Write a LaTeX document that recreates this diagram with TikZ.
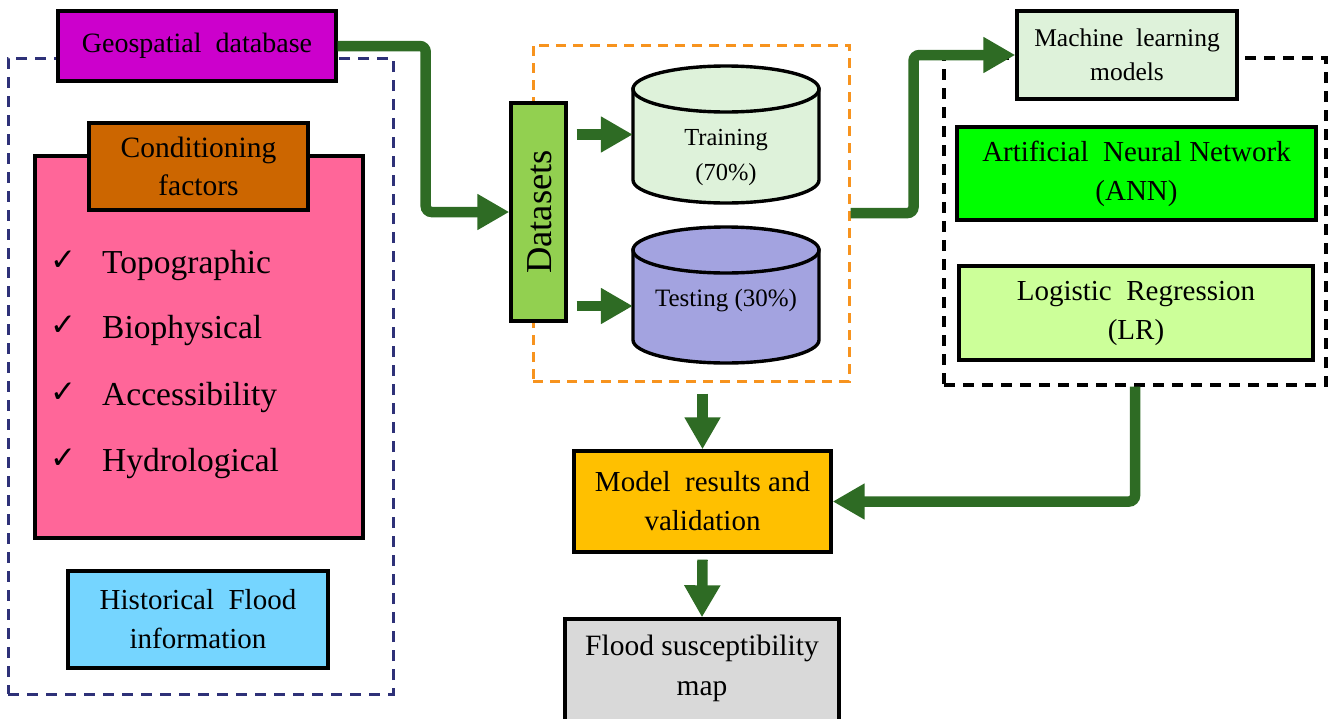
\documentclass[tikz,border=0pt]{standalone}
\usepackage{fontspec}
\setmainfont{Liberation Serif}
\newfontfamily\symfont{DejaVu Sans}
\usetikzlibrary{arrows.meta,calc}

\definecolor{geofill}{HTML}{CC00CC}
\definecolor{condfill}{HTML}{CC6600}
\definecolor{pinkfill}{HTML}{FF6699}
\definecolor{histfill}{HTML}{75D5FF}
\definecolor{datafill}{HTML}{92D050}
\definecolor{trainfill}{HTML}{DEF2DA}
\definecolor{testfill}{HTML}{A3A3E0}
\definecolor{annfill}{HTML}{00FF00}
\definecolor{lrfill}{HTML}{CCFF99}
\definecolor{resfill}{HTML}{FFC000}
\definecolor{mapfill}{HTML}{D9D9D9}
\definecolor{flowgreen}{HTML}{2E6B24}
\definecolor{navydash}{HTML}{2E3178}
\definecolor{orangedash}{HTML}{F7931E}

\tikzset{
  blk/.style={draw=black,line width=3.4pt,inner sep=0pt,align=center},
  grp/.style={line width=3pt,dash pattern=on 11pt off 8pt,inner sep=0pt},
  lbl/.style={inner sep=0pt,align=center},
  arr/.style={draw=flowgreen,line width=10.5pt,rounded corners=6pt,
              -{Triangle[length=32pt,width=34pt]}},
  big/.style={font=\fontsize{29}{39}\selectfont},
}

\begin{document}
\begin{tikzpicture}[x=1pt,y=-1pt]
\useasboundingbox (0,0) rectangle (1330,718);

% dashed groups
\node[grp,draw=navydash,minimum width=385pt,minimum height=636pt] (leftgrp) at (200.5,376) {};
\node[grp,draw=orangedash,dash pattern=on 10pt off 7pt,minimum width=316pt,minimum height=336pt] (splitgrp) at (691,213) {};
\node[grp,draw=black,line width=3.4pt,minimum width=382pt,minimum height=327pt] (mlgrp) at (1135,221.5) {};

% left column
\node[blk,fill=geofill,minimum width=278pt,minimum height=70pt,font=\fontsize{28}{36}\selectfont] (geo) at (197,46) {Geospatial\ \ database};
\node[blk,fill=pinkfill,minimum width=328pt,minimum height=382pt] (factors) at (199,347) {};
\node[blk,fill=condfill,minimum width=219pt,minimum height=87pt,font=\fontsize{29.5}{38}\selectfont] (cond) at (198.5,166.5) {Conditioning\\factors};
\foreach \y/\t [count=\i] in {273/Topographic,338/Biophysical,405/Accessibility,471/Hydrological}{
  \node[lbl,anchor=base west,font=\fontsize{31}{34}\symfont] (chk\i) at (50,\y-3) {✓};
  \node[lbl,anchor=base west,font=\fontsize{33.5}{40}\selectfont] (item\i) at (102,\y) {\t};
}
\node[blk,fill=histfill,minimum width=260pt,minimum height=97pt,big] (hist) at (198,619.5) {Historical\ \ Flood\\information};

% datasets and split
\node[blk,fill=datafill,minimum width=55pt,minimum height=218pt] (data) at (538.5,212) {};
\node[lbl,rotate=90,font=\fontsize{36.5}{40}\selectfont] (datalbl) at (540,212) {Datasets};

\path[draw=black,line width=3.4pt,fill=trainfill]
  (633,89) -- (633,180) arc[start angle=180,end angle=0,x radius=93,y radius=23] -- (819,89) -- cycle;
\draw[line width=3.4pt,fill=trainfill] (726,89) ellipse[x radius=93,y radius=23];
\node[lbl,minimum width=186pt,minimum height=137pt] (train) at (726,134.5) {};
\node[lbl,font=\fontsize{24.5}{35}\selectfont] (trainlbl) at (726,157) {Training\\(70\%)};

\path[draw=black,line width=3.4pt,fill=testfill]
  (633,250) -- (633,340) arc[start angle=180,end angle=0,x radius=93,y radius=23] -- (819,250) -- cycle;
\draw[line width=3.4pt,fill=testfill] (726,250) ellipse[x radius=93,y radius=23];
\node[lbl,minimum width=186pt,minimum height=136pt] (test) at (726,295) {};
\node[lbl,font=\fontsize{25}{33}\selectfont] (testlbl) at (726,301) {Testing (30\%)};

% models
\node[blk,fill=trainfill,minimum width=220pt,minimum height=88pt,font=\fontsize{25.5}{34}\selectfont] (ml) at (1127,55) {Machine\ \ learning\\models};
\node[blk,fill=annfill,minimum width=359pt,minimum height=93pt,big] (ann) at (1136.5,173.5) {Artificial\ \ Neural Network\\(ANN)};
\node[blk,fill=lrfill,minimum width=354pt,minimum height=94pt,big] (lr) at (1136,313) {Logistic\ \ Regression\\(LR)};

% results
\node[blk,fill=resfill,minimum width=257pt,minimum height=101pt,big] (res) at (702.5,501.5) {Model\ \ results and\\validation};
\node[blk,fill=mapfill,minimum width=274pt,minimum height=103pt] (map) at (702,670.5) {};
\node[lbl,font=\fontsize{29.5}{40}\selectfont] (maplbl) at (702,668) {Flood susceptibility\\map};

% flow arrows
\draw[arr] (geo.east) -- ++(88,0) |- (data.west);
\draw[arr] ($(data.east |- train.west)+(9,0)$) -- (train.west);
\draw[arr] ($(data.east |- test.west)+(9,11)$) -- ($(test.west)+(0,11)$);
\draw[arr] (splitgrp.east) -- ++(63,0) |- (ml.west);
\draw[arr] ($(res.north |- splitgrp.south)+(0,11)$) -- (res.north);
\draw[arr] (mlgrp.south) |- (res.east);
\draw[arr] ($(res.south)+(0,6)$) -- (map.north);
\end{tikzpicture}
\end{document}
